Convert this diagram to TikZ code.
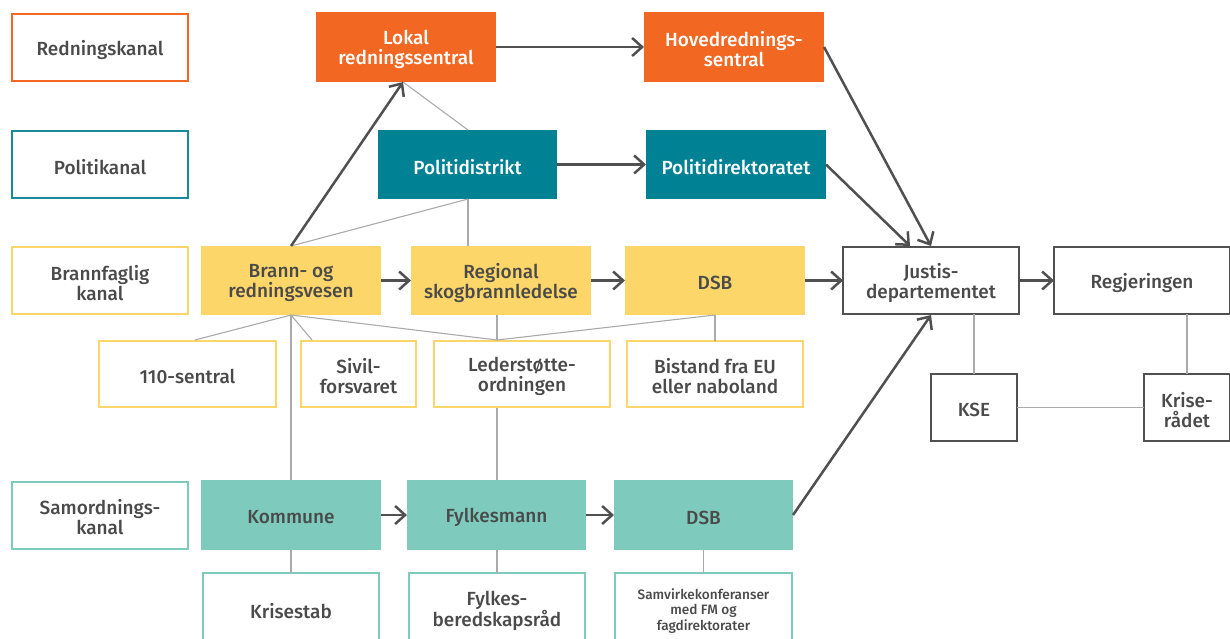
\documentclass[tikz,border=0pt]{standalone}
\usepackage{fontspec}
\setmainfont{Fira Sans}[UprightFont=* Medium]
\usetikzlibrary{arrows.meta}
\definecolor{cOrange}{HTML}{F26722}
\definecolor{cTeal}{HTML}{008294}
\definecolor{cTealB}{HTML}{1A8A9A}
\definecolor{cYellow}{HTML}{FDD669}
\definecolor{cMint}{HTML}{7ECBBE}
\definecolor{cText}{HTML}{4A4A4A}
\definecolor{cDark}{HTML}{505050}
\definecolor{cThin}{HTML}{AAAAAA}
% box: style, name, centre, text options, text
\newcommand\bx[5]{\node[#1] (#2) at (#3) {};
  \node[txt,#4] (#2-t) at ([yshift=-2.5pt]#2.center) {#5};}
\begin{document}
\begin{tikzpicture}[x=1pt,y=-1pt,
  base/.style={rectangle,inner sep=0pt,outer sep=0pt},
  txt/.style={inner sep=0pt,align=center,text=cText,font=\fontsize{19}{20}\selectfont},
  wtxt/.style={text=white},
  stxt/.style={font=\fontsize{13.6}{15.5}\selectfont},
  lab/.style={base,draw,line width=2pt,minimum width=176pt,minimum height=67pt},
  fillbox/.style={base,minimum width=180pt,minimum height=69pt},
  obox/.style={base,draw,line width=2pt,minimum height=66pt},
  gbox/.style={base,draw=cDark,line width=2pt,minimum width=176pt,minimum height=67pt},
  arr/.style={draw=cDark,line width=2.5pt,-{Straight Barb[length=10pt,width=18pt]}},
  thin/.style={draw=cThin,line width=1.1pt}]
\clip (0,0) rectangle (1230,638);
\fill[white] (0,0) rectangle (1230,638);
% left labels
\bx{lab,draw=cOrange}{l1}{100,47.5}{}{Redningskanal}
\bx{lab,draw=cTealB}{l2}{100,164.5}{}{Politikanal}
\bx{lab,draw=cYellow}{l3}{100,280.5}{}{Brannfaglig\\kanal}
\bx{lab,draw=cMint}{l4}{100,515}{}{Samordnings-\\kanal}
% row 1
\bx{fillbox,fill=cOrange,minimum height=70pt}{lokal}{406,47}{wtxt}{Lokal\\redningssentral}
\bx{fillbox,fill=cOrange,minimum height=70pt}{hoved}{734,47}{wtxt}{Hovedrednings-\\sentral}
% row 2
\bx{fillbox,fill=cTeal,minimum width=179pt}{pdist}{467.5,164.5}{wtxt}{Politidistrikt}
\bx{fillbox,fill=cTeal}{pdir}{736,164.5}{wtxt}{Politidirektoratet}
% row 3
\bx{fillbox,fill=cYellow}{brann}{291,280.5}{}{Brann- og\\redningsvesen}
\bx{fillbox,fill=cYellow}{regional}{501,280.5}{}{Regional\\skogbrannledelse}
\bx{fillbox,fill=cYellow}{dsbA}{715,280.5}{}{DSB}
\bx{gbox}{justis}{931,280.5}{}{Justis-\\departementet}
\bx{gbox}{regj}{1142,280.5}{}{Regjeringen}
% row 3b
\bx{obox,draw=cYellow,minimum width=177pt}{s110}{187.5,374}{}{110-sentral}
\bx{obox,draw=cYellow,minimum width=115pt}{sivil}{358.5,374}{}{Sivil-\\forsvaret}
\bx{obox,draw=cYellow,minimum width=176pt}{leder}{522,374}{}{Lederstøtte-\\ordningen}
\bx{obox,draw=cYellow,minimum width=176pt}{bistand}{715,374}{}{Bistand fra EU\\eller naboland}
\bx{gbox,minimum width=86pt}{kse}{974,407.5}{}{KSE}
\bx{gbox,minimum width=86pt}{krise}{1187,407.5}{}{Krise-\\rådet}
% row 4
\bx{fillbox,fill=cMint,minimum height=70pt}{kommune}{291,515}{}{Kommune}
\bx{fillbox,fill=cMint,minimum width=179pt,minimum height=70pt}{fylkesmann}{496.5,515}{}{Fylkesmann}
\bx{fillbox,fill=cMint,minimum width=179pt,minimum height=70pt}{dsbB}{703.5,515}{}{DSB}
% row 5
\bx{obox,draw=cMint,minimum width=176pt,minimum height=71pt}{krisestab}{291,608.5}{}{Krisestab}
\bx{obox,draw=cMint,minimum width=176pt,minimum height=71pt}{fylkesber}{497,608.5}{}{Fylkes-\\beredskapsråd}
\bx{obox,draw=cMint,minimum width=177pt,minimum height=71pt}{samvirke}{703.5,608.5}{stxt}{Samvirkekonferanser\\med FM og\\fagdirektorater}
% coordinates
\coordinate (lokalB) at (403,82);
\coordinate (pdistT) at (468,130);
\coordinate (pdistB) at (468,199);
\coordinate (regT) at (468,246);
\coordinate (brannT) at (291,246);
\coordinate (brannB) at (291,315);
\coordinate (t110) at (195,340);
\coordinate (tsivil) at (312,340);
\coordinate (tleder) at (497,340);
\coordinate (regB) at (497,315);
\coordinate (dsbAB) at (715,315);
\coordinate (ledB) at (497,408);
\coordinate (jusT1) at (910,246);
\coordinate (jusT2) at (931,246);
\coordinate (jusB) at (931,315);
% thin lines
\draw[thin] (lokalB) -- (pdistT);
\draw[thin] (pdistB) -- (brannT);
\draw[thin] (pdistB) -- (regT);
\draw[thin] (brannB) -- (t110);
\draw[thin] (brannB) -- (tsivil);
\draw[thin] (brannB) -- (tleder);
\draw[thin] (regB) -- (tleder);
\draw[thin] (dsbAB) -- (tleder);
\draw[thin] (dsbAB) -- (bistand.north);
\draw[thin] (brannB) -- (kommune.north);
\draw[thin] (ledB) -- (fylkesmann.north -| ledB);
\draw[thin] (kommune.south) -- (krisestab.north);
\draw[thin] (fylkesmann.south -| ledB) -- (fylkesber.north);
\draw[thin] (dsbB.south) -- (samvirke.north);
\draw[thin] (justis.south -| kse) -- (kse.north);
\draw[thin] (regj.south -| krise) -- (krise.north);
\draw[thin] (kse.east) -- (krise.west);
% arrows
\draw[arr] (lokal.east) -- (hoved.west);
\draw[arr] (pdist.east) -- (pdir.west);
\draw[arr] (brann.east) -- (regional.west);
\draw[arr] (regional.east) -- (dsbA.west);
\draw[arr] (dsbA.east) -- (justis.west);
\draw[arr] (justis.east) -- (regj.west);
\draw[arr] (kommune.east) -- (fylkesmann.west);
\draw[arr] (fylkesmann.east) -- (dsbB.west);
\draw[arr] (brannT) -- (lokalB);
\draw[arr] (hoved.east) -- (jusT2);
\draw[arr] (pdir.east) -- (jusT1);
\draw[arr] (dsbB.east) -- (jusB);
\end{tikzpicture}
\end{document}
